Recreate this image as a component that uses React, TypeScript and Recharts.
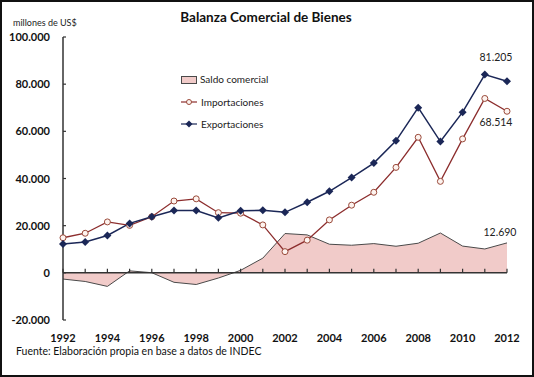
import {
  ComposedChart,
  Line,
  Area,
  XAxis,
  YAxis,
  ReferenceLine,
  LabelList,
} from 'recharts';

const years = [1992, 1993, 1994, 1995, 1996, 1997, 1998, 1999, 2000, 2001, 2002, 2003, 2004, 2005, 2006, 2007, 2008, 2009, 2010, 2011, 2012];
const exportaciones = [12235, 13118, 15839, 20963, 23811, 26431, 26434, 23309, 26341, 26543, 25651, 29939, 34576, 40387, 46546, 55980, 70019, 55672, 68134, 84051, 81205];
const importaciones = [14872, 16784, 21590, 20122, 23762, 30450, 31377, 25508, 25280, 20320, 8990, 13851, 22445, 28687, 34154, 44707, 57462, 38786, 56793, 73937, 68514];
const saldo = [-2637, -3666, -5751, 841, 49, -4019, -4943, -2199, 1061, 6223, 16661, 16088, 12131, 11700, 12392, 11273, 12557, 16886, 11341, 10114, 12690];
const yTicks = [-20000, 0, 20000, 40000, 60000, 80000, 100000];
const xTicks = [1992, 1994, 1996, 1998, 2000, 2002, 2004, 2006, 2008, 2010, 2012];

const data = years.map((year, i) => ({
  year,
  saldo: saldo[i],
  importaciones: importaciones[i],
  exportaciones: exportaciones[i],
}));

const FONT = 'Lato, "Open Sans", sans-serif';
const NAVY = '#1b2757';
const MAROON = '#8c2d2d';
const PINK = '#f1cbc9';
const GREY = '#4a4a4a';
const LAST = years.length - 1;

const fmt = (v: number) =>
  (v < 0 ? '-' : '') + String(Math.abs(v)).replace(/\B(?=(\d{3})+(?!\d))/g, '.');

const Diamond = (props: any) => {
  const { cx, cy, index } = props;
  if (cx == null || cy == null) return null;
  return <path key={`d-${index}`} d={`M${cx},${cy - 4}L${cx + 4},${cy}L${cx},${cy + 4}L${cx - 4},${cy}Z`} fill={NAVY} />;
};

const Ring = (props: any) => {
  const { cx, cy, index } = props;
  if (cx == null || cy == null) return null;
  return <circle key={`c-${index}`} cx={cx} cy={cy} r={3} fill="#fdf3ef" stroke="#9a4a3a" strokeWidth={1} />;
};

const YTick = ({ x, y, payload }: any) => (
  <g>
    <text x={x} y={y} dy={4} textAnchor="end" fontSize={11} fontWeight={700} fill="#111" fontFamily={FONT}>
      {fmt(payload.value)}
    </text>
    <line x1={x + 13} x2={x + 16} y1={y} y2={y} stroke="#333" strokeWidth={1.2} />
  </g>
);

const XTick = ({ x, y, payload }: any) => (
  <text x={x} y={y} dy={22} textAnchor="middle" fontSize={11} fontWeight={700} fill="#111" fontFamily={FONT}>
    {payload.value}
  </text>
);

const lastLabel = (dx: number, dy: number) => (props: any) => {
  const { x, y, value, index } = props;
  if (index !== LAST) return null;
  return (
    <text x={x + dx} y={y + dy} textAnchor="middle" fontSize={10.5} fill="#222" fontFamily={FONT}>
      {fmt(value)}
    </text>
  );
};

const LegendBox = () => (
  <svg width={120} height={60} style={{ display: 'block' }}>
    <rect x={3.5} y={4.5} width={15} height={7} fill={PINK} stroke={GREY} strokeWidth={1} />
    <text x={22} y={11} fontSize={10} fill="#222" fontFamily={FONT}>Saldo comercial</text>
    <line x1={3} x2={19} y1={30} y2={30} stroke={MAROON} strokeWidth={1.2} />
    <circle cx={11} cy={30} r={2.5} fill="#fdf3ef" stroke="#9a4a3a" />
    <text x={23} y={33.5} fontSize={10} fill="#222" fontFamily={FONT}>Importaciones</text>
    <line x1={3} x2={19} y1={52} y2={52} stroke={NAVY} strokeWidth={1.2} />
    <path d="M11,48.5L14.5,52L11,55.5L7.5,52Z" fill={NAVY} />
    <text x={23} y={55.5} fontSize={10} fill="#222" fontFamily={FONT}>Exportaciones</text>
  </svg>
);

export default function App() {
  return (
    <div style={{ position: 'relative', width: 534, height: 377, background: '#fff', fontFamily: FONT }}>
      <style>{'body{margin:0}'}</style>
      <div style={{ position: 'absolute', inset: 0, border: '2px solid #111', boxSizing: 'border-box', pointerEvents: 'none', zIndex: 2 }} />
      <div style={{ position: 'absolute', left: 13, top: 17, fontSize: 9, color: '#222' }}>millones de US$</div>
      <div style={{ position: 'absolute', left: 0, width: 532, top: 9, textAlign: 'center', fontSize: 13.5, fontWeight: 700, color: '#111' }}>
        Balanza Comercial de Bienes
      </div>
      <div style={{ position: 'absolute', left: 16, top: 345, fontSize: 10.5, color: '#111' }}>
        Fuente: Elaboración propia en base a datos de INDEC
      </div>
      <div style={{ position: 'absolute', left: 0, top: 0 }}>
        <ComposedChart width={534} height={377} data={data} margin={{ top: 37, right: 27, bottom: 27, left: 8 }}>
          <XAxis
            dataKey="year"
            type="number"
            domain={[1992, 2012]}
            ticks={xTicks}
            axisLine={false}
            tickLine={false}
            tickSize={0}
            tickMargin={0}
            height={30}
            tick={<XTick />}
            interval={0}
          />
          <YAxis
            type="number"
            domain={[-20000, 100000]}
            ticks={yTicks}
            width={55}
            axisLine={{ stroke: '#333', strokeWidth: 1.5 }}
            tickLine={false}
            tickSize={0}
            tickMargin={13}
            tick={<YTick />}
            interval={0}
          />
          <Area
            type="linear"
            dataKey="saldo"
            fill={PINK}
            fillOpacity={1}
            stroke={GREY}
            strokeWidth={1}
            isAnimationActive={false}
          >
            <LabelList dataKey="saldo" content={lastLabel(-7, -7)} />
          </Area>
          <ReferenceLine y={0} stroke="#333" strokeWidth={1.5} />
          {years.map((yr) => (
            <ReferenceLine
              key={yr}
              segment={[{ x: yr, y: 0 }, { x: yr, y: 1700 }]}
              stroke="#333"
              strokeWidth={1.2}
            />
          ))}
          <Line
            type="linear"
            dataKey="importaciones"
            stroke={MAROON}
            strokeWidth={1.3}
            dot={Ring}
            activeDot={false}
            isAnimationActive={false}
          >
            <LabelList dataKey="importaciones" content={lastLabel(-11, 15)} />
          </Line>
          <Line
            type="linear"
            dataKey="exportaciones"
            stroke={NAVY}
            strokeWidth={1.5}
            dot={Diamond}
            activeDot={false}
            isAnimationActive={false}
          >
            <LabelList dataKey="exportaciones" content={lastLabel(-11, -20)} />
          </Line>
        </ComposedChart>
      </div>
      <div style={{ position: 'absolute', left: 178, top: 72 }}>
        <LegendBox />
      </div>
    </div>
  );
}
